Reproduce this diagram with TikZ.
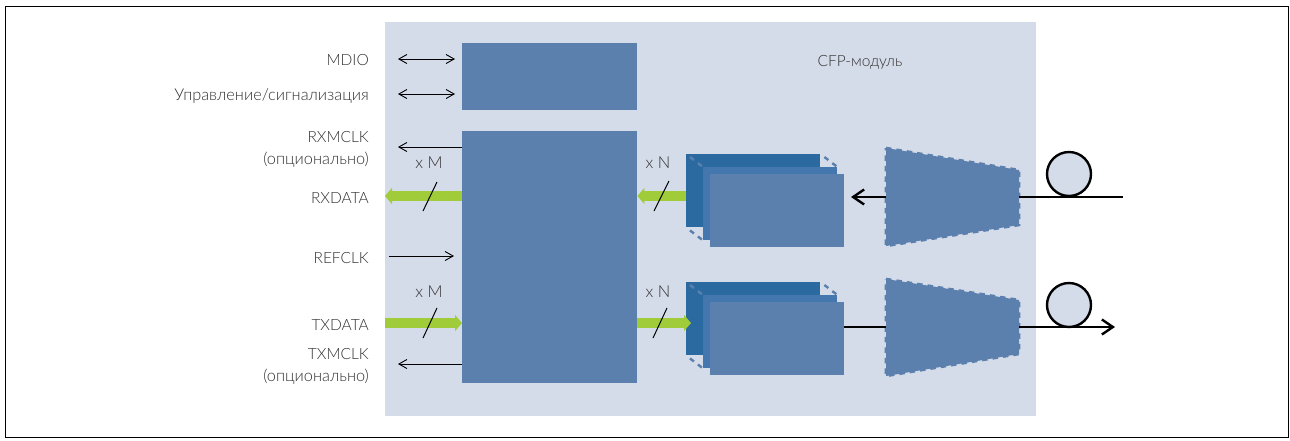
\documentclass[tikz,border=0pt]{standalone}
\usepackage{fontspec}
\setmainfont{Lato Light}
\usetikzlibrary{arrows.meta, positioning}
\definecolor{modulebg}{HTML}{D5DCE9}
\definecolor{boxblue}{HTML}{5B80AE}
\definecolor{backblue}{HTML}{2A6AA1}
\definecolor{midblue}{HTML}{4477AD}
\definecolor{busgreen}{HTML}{A1CC3A}
\definecolor{labelgray}{HTML}{303030}
\newcommand{\wider}[1]{{\fontsize{16.3}{22}\selectfont #1}}
\tikzset{
  block/.style={fill=boxblue, inner sep=0pt, anchor=north west},
  backcard/.style={fill=backblue, inner sep=0pt, anchor=north west, minimum width=134pt, minimum height=73pt},
  midcard/.style={fill=midblue, inner sep=0pt, minimum width=134pt, minimum height=73pt},
  frontcard/.style={fill=boxblue, inner sep=0pt, minimum width=134pt, minimum height=73pt},
  sig/.style={text=labelgray, inner sep=0pt, anchor=east, align=right, font=\fontsize{15.5}{22}\selectfont},
  mult/.style={text=labelgray, inner sep=0pt, font=\fontsize{16.5}{18}\selectfont},
  thin link/.style={line width=0.9pt, -{Straight Barb[length=8pt,width=9pt]}},
  both link/.style={line width=0.9pt, {Straight Barb[length=8pt,width=9pt]}-{Straight Barb[length=8pt,width=9pt]}},
  fiber/.style={line width=2.6pt, black},
  fiber arrow/.style={fiber, -{Straight Barb[length=11pt,width=15pt,line width=2.4pt]}},
  bus/.style={line width=10pt, busgreen, -{Triangle[length=7pt,width=16pt]}},
  slash/.style={line width=1pt, black},
  ghost/.style={line width=2.4pt, boxblue, dash pattern=on 5pt off 5pt, dash phase=5pt},
  coil/.style={circle, draw=black, line width=2.4pt, fill=modulebg, minimum size=44pt, inner sep=0pt},
  prism/.style={fill=boxblue, draw=boxblue, line width=2.6pt, dash pattern=on 5.5pt off 5pt}
}
\begin{document}
\begin{tikzpicture}[x=1pt, y=-1pt]
      \useasboundingbox (0,0) rectangle (1290,440);
      \node[draw=black, line width=0.8pt, inner sep=0pt, anchor=north west, minimum width=1283pt, minimum height=431pt] (frame) at (5,6) {};
      \node[fill=modulebg, inner sep=0pt, anchor=north west, minimum width=651pt, minimum height=394pt] (module) at (385,22) {};

      \node[block, minimum width=175pt, minimum height=67pt]  (ctrl) at (462,43)  {};
      \node[block, minimum width=175pt, minimum height=252pt] (gear) at (462,131) {};

      \node[backcard]  (rxback) at (686,154) {};
      \draw[ghost] (rxback.north west) -- ++(17,13);
      \draw[ghost] (rxback.north east) -- ++(17,13);
      \draw[ghost] (rxback.south west) -- ++(17,13);
      \node[midcard]   (rxmid)   [below right=13pt and 17pt of rxback.north west] {};
      \node[frontcard] (rxfront) [below right=7pt and 7pt of rxmid.north west] {};

      \node[backcard]  (txback) at (686,282) {};
      \draw[ghost] (txback.north west) -- ++(17,13);
      \draw[ghost] (txback.north east) -- ++(17,13);
      \draw[ghost] (txback.south west) -- ++(17,13);
      \node[midcard]   (txmid)   [below right=13pt and 17pt of txback.north west] {};
      \node[frontcard] (txfront) [below right=7pt and 7pt of txmid.north west] {};

      \draw[prism] (886,148) -- (1019,170) -- (1019,225) -- (886,246) -- cycle;
      \draw[prism] (886,279) -- (1019,300) -- (1019,354) -- (886,376) -- cycle;

      \node[sig] (mdio)   at (369,60.5) {MDIO};
      \node[sig] (mgmt)   at (369,96)   {\wider{Управление/сигнализация}};
      \node[sig] (rxmclk) at (369,149)  {RXMCLK\\\wider{(опционально)}};
      \node[sig] (rxdata) at (369,198)  {RXDATA};
      \node[sig] (refclk) at (369,258)  {REFCLK};
      \node[sig] (txdata) at (369,325)  {TXDATA};
      \node[sig] (txmclk) at (369,366)  {TXMCLK\\\wider{(опционально)}};
      \node[text=labelgray, inner sep=0pt, font=\fontsize{15.5}{18}\selectfont] (cfp) at (860,62) {CFP-модуль};

      \node[mult] (rxm) at (429,163) {x M};
      \node[mult] (txm) at (429,292) {x M};
      \node[mult] (rxn) at (658,163) {x N};
      \node[mult] (txn) at (658,292) {x N};

      \coordinate (mdioin)  at (398,59);
      \coordinate (mgmtin)  at (398,94);
      \coordinate (rxclk)   at (398,147);
      \coordinate (refin)   at (389,256);
      \coordinate (txclk)   at (398,364);
      \coordinate (rxbus)   at (385,196);
      \coordinate (txbus)   at (385,323);
      \coordinate (rxend)   at (1123,197);
      \coordinate (txend)   at (1115,327);
      \coordinate (rxtip)   at (851,197);

      \node[coil] (rxcoil) at (1069,174) {};
      \node[coil] (txcoil) at (1069,305) {};

      \draw[both link, shorten >=7pt] (mdioin) -- (mdioin -| ctrl.west);
      \draw[both link, shorten >=7pt] (mgmtin) -- (mgmtin -| ctrl.west);
      \draw[thin link] (rxclk -| gear.west) -- (rxclk);
      \draw[thin link, shorten >=8pt] (refin) -- (refin -| gear.west);
      \draw[thin link] (txclk -| gear.west) -- (txclk);

      \draw[bus] (rxbus -| gear.west) -- (rxbus);
      \draw[bus] (txbus) -- (txbus -| gear.west);
      \draw[bus] (rxbus -| rxback.west) -- (rxbus -| gear.east);
      \draw[bus] (txbus -| gear.east) -- ([xshift=5pt]txbus -| txback.west);

      \draw[fiber arrow] (886,197) -- (rxtip);
      \draw[fiber] (1019,197) -- (rxend);
      \draw[fiber] (txfront.east |- txend) -- (886,327);
      \draw[fiber arrow] (1019,327) -- (txend);

      \draw[slash] (423,211) -- (437,182);
      \draw[slash] (423,338) -- (437,308);
      \draw[slash] (654,211) -- (669,181);
      \draw[slash] (653,338) -- (667,308);
    \end{tikzpicture}
\end{document}
